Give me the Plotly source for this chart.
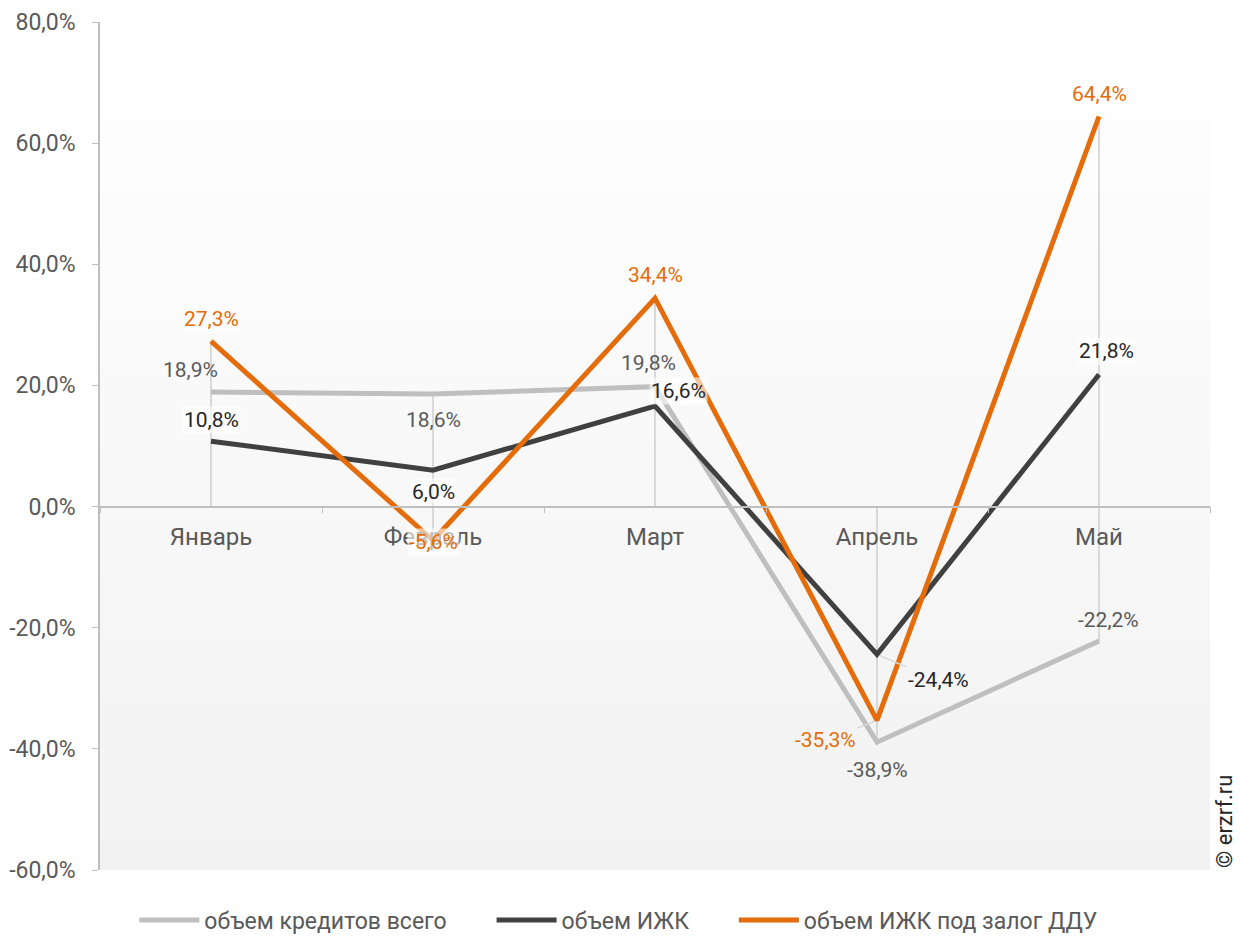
import plotly.graph_objects as go

categories = ["Январь", "Февраль", "Март", "Апрель", "Май"]
total_vals = [18.9, 18.6, 19.8, -38.9, -22.2]
izhk_vals = [10.8, 6.0, 16.6, -24.4, 21.8]
ddu_vals = [27.3, -5.6, 34.4, -35.3, 64.4]
series_names = ["объем кредитов всего", "объем ИЖК", "объем ИЖК под залог ДДУ"]
y_ticks = [-60, -40, -20, 0, 20, 40, 60, 80]

colors = ["#bfbfbf", "#404040", "#e46c0a"]
label_colors = ["#595959", "#262626", "#e46c0a"]

# label offsets in pixels (dx, dy; dy positive = up)
offsets = [
    [(-21, 22), (0, -26), (-7, 24), (0, -28), (9, 21)],
    [(0, 21), (0, -22), (23, 15), (61, -26), (7, 24)],
    [(0, 22), (0, -2), (0, 23), (-52, -20), (0, 22)],
]
arrows = {(1, 3), (2, 3)}
legend_pad = "\u00a0" * 7


def fmt(v):
    return f"{v:.1f}".replace(".", ",") + "%"


fig = go.Figure()

# background gradient
n = 60
for i in range(n):
    t0 = i / n
    t1 = (i + 1) / n
    c = int(round(242 + (255 - 242) * (t0 + t1) / 2))
    fig.add_shape(type="rect", xref="paper", yref="paper", x0=0, x1=1, y0=t0, y1=t1 + 0.001,
                  fillcolor=f"rgb({c},{c},{c})", line_width=0, layer="below")

# vertical drop lines
all_series = [total_vals, izhk_vals, ddu_vals]
dx, dy = [], []
for i, cat in enumerate(categories):
    vals = [s[i] for s in all_series]
    dx += [cat, cat, None]
    dy += [max(0, max(vals)), min(0, min(vals)), None]
fig.add_trace(go.Scatter(x=dx, y=dy, mode="lines", line=dict(color="#d9d9d9", width=2),
                         showlegend=False, hoverinfo="skip"))

for k, vals in enumerate(all_series):
    nm = series_names[k] + (legend_pad if k < len(all_series) - 1 else "")
    fig.add_trace(go.Scatter(x=categories, y=vals, mode="lines", name=nm,
                             line=dict(color=colors[k], width=5)))

for k, vals in enumerate(all_series):
    for i, v in enumerate(vals):
        txt = fmt(v)
        ox, oy = offsets[k][i]
        if (k, i) in arrows:
            fig.add_annotation(x=categories[i], y=v, text=txt, showarrow=True,
                               ax=ox, ay=-oy, arrowhead=0, arrowwidth=1.5, arrowcolor="#d9d9d9",
                               standoff=3,
                               font=dict(family="Roboto", size=21, color=label_colors[k]))
        else:
            fig.add_annotation(x=categories[i], y=v, text=txt, showarrow=False,
                               xshift=ox, yshift=oy,
                               bgcolor="rgba(255,255,255,0.6)" if k != 0 else None,
                               font=dict(family="Roboto", size=21, color=label_colors[k]))

fig.add_annotation(x=1.0, xref="paper", xshift=29, y=0, yref="paper", yanchor="bottom",
                   text="© erzrf.ru", textangle=-90, showarrow=False,
                   font=dict(family="Roboto", size=22, color="#262626"))

fig.update_layout(
    width=1240, height=928,
    margin=dict(l=92, r=38, t=14, b=66, autoexpand=False),
    paper_bgcolor="white",
    plot_bgcolor="rgba(0,0,0,0)",
    font=dict(family="Roboto", color="#595959"),
    legend=dict(orientation="h", x=0.467, xanchor="center", y=-0.059, yanchor="middle",
                font=dict(family="Roboto", size=23, color="#595959"),
                itemwidth=60, tracegroupgap=0),
    xaxis=dict(
        categoryorder="array", categoryarray=categories,
        range=[-0.5, 4.5], anchor="free", position=60 / 140,
        showline=True, linecolor="#bfbfbf", linewidth=1.5,
        ticks="outside", tickson="boundaries", ticklen=6, tickcolor="#bfbfbf",
        showgrid=False, zeroline=False, automargin=False,
        tickfont=dict(family="Roboto", size=24, color="#595959"),
        ticklabelstandoff=9,
    ),
    yaxis=dict(
        range=[-60, 80], tickvals=y_ticks, ticktext=[fmt(t) for t in y_ticks],
        showline=True, linecolor="#bfbfbf", linewidth=1.5,
        ticks="outside", ticklen=6, tickcolor="#bfbfbf",
        showgrid=False, zeroline=False, automargin=False,
        tickfont=dict(family="Roboto", size=23, color="#595959"),
        ticklabelstandoff=12,
    ),
)

fig.write_html("out.html")
